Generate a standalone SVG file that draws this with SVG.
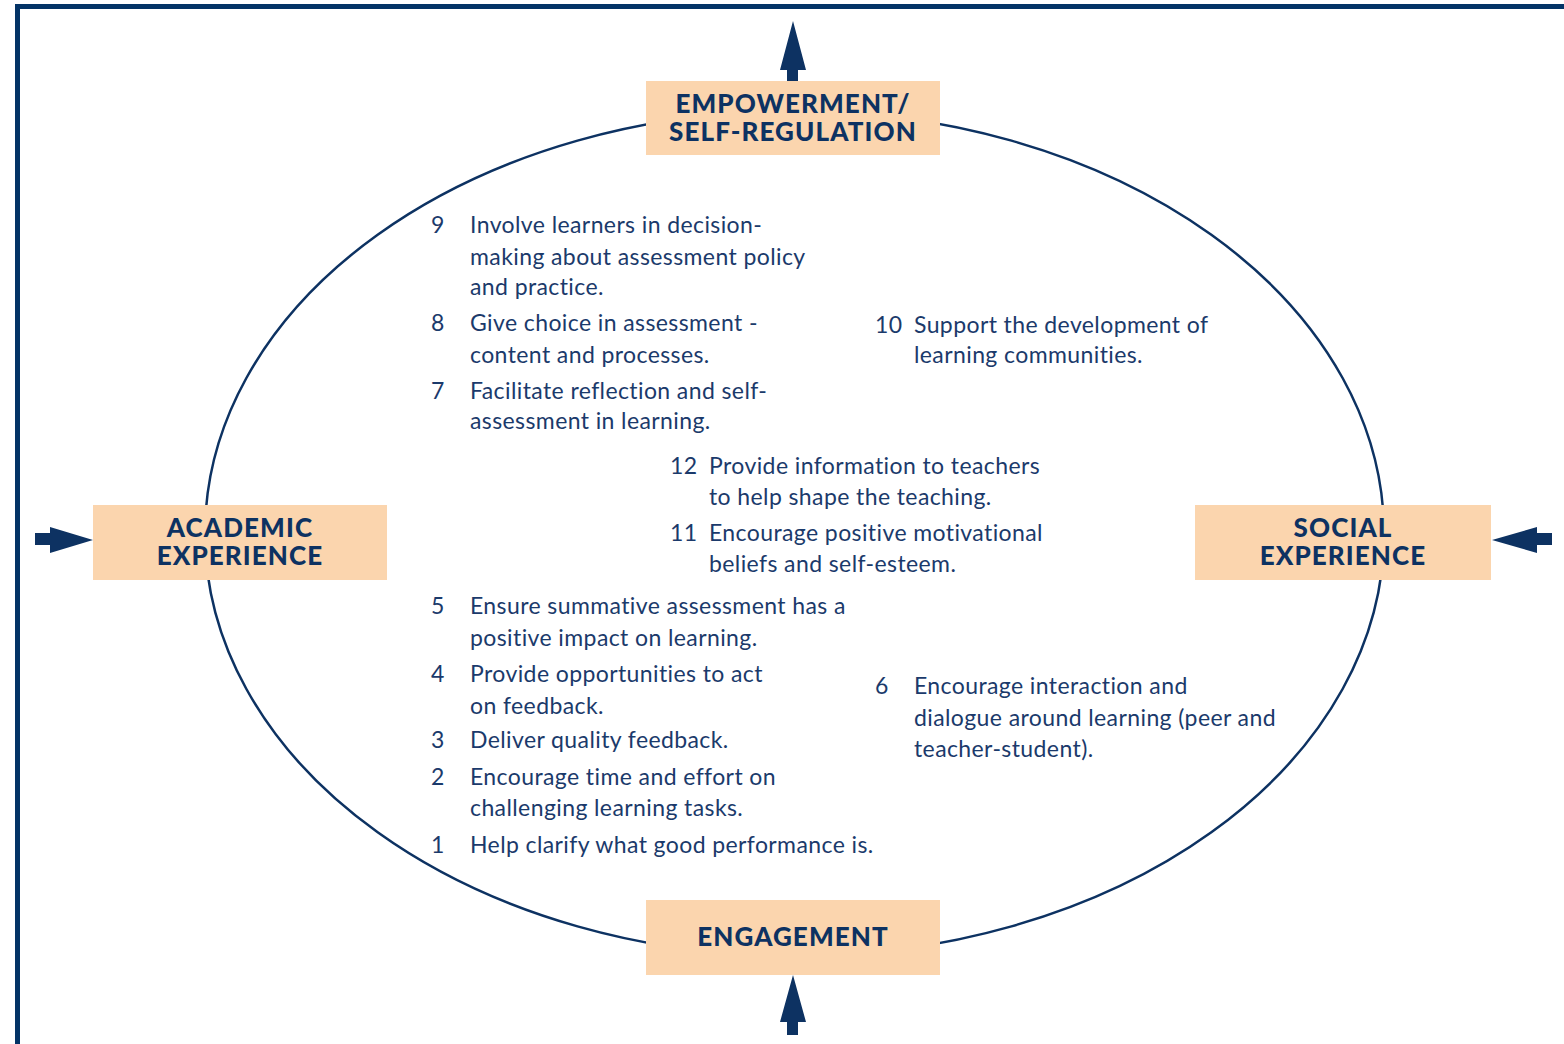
<svg xmlns="http://www.w3.org/2000/svg" width="1564" height="1044" viewBox="0 0 1564 1044">
<style>
.box{fill:#fbd5ae}
.hd{font-family:Lato,"Open Sans",sans-serif;font-weight:900;font-size:26px;fill:#0d3262;text-anchor:middle;letter-spacing:1.1px}
.tx{font-family:Lato,"Noto Sans",sans-serif;font-size:23px;fill:#1b3a6b;letter-spacing:0.4px}
.arr{fill:#0d3262}
</style>
<rect width="1564" height="1044" fill="#ffffff"/>
<path d="M17.5 1044 V6.5 H1564" fill="none" stroke="#033366" stroke-width="5"/>
<g id="connectors">
<ellipse cx="794.5" cy="533.5" rx="589.5" ry="422.5" fill="none" stroke="#0d3262" stroke-width="2.5"/>
<polygon class="arr" points="787,81 798,81 798,70 806,70 793,21 780,70 787,70"/>
<polygon class="arr" points="787,1035 798,1035 798,1022 806,1022 793,975 780,1022 787,1022"/>
<polygon class="arr" points="35,533 50,533 50,527 93,540 50,553 50,545 35,545"/>
<polygon class="arr" points="1552,533 1537,533 1537,527 1492,540 1537,553 1537,545 1552,545"/>
</g>
<g id="empowerment">
<rect class="box" x="646" y="81" width="294" height="74"/>
<text class="hd" x="793" y="113">EMPOWERMENT/</text>
<text class="hd" x="793" y="141">SELF-REGULATION</text>
</g>
<g id="academic">
<rect class="box" x="93" y="505" width="294" height="75"/>
<text class="hd" x="240" y="537">ACADEMIC</text>
<text class="hd" x="240" y="565">EXPERIENCE</text>
</g>
<g id="social">
<rect class="box" x="1195" y="505" width="296" height="75"/>
<text class="hd" x="1343" y="537">SOCIAL</text>
<text class="hd" x="1343" y="565">EXPERIENCE</text>
</g>
<g id="engagement">
<rect class="box" x="646" y="900" width="294" height="75"/>
<text class="hd" x="793" y="946">ENGAGEMENT</text>
</g>
<g id="items">
<text class="tx" x="431" y="233">9</text>
<text class="tx" x="470" y="233">Involve learners in decision-</text>
<text class="tx" x="470" y="265">making about assessment policy</text>
<text class="tx" x="470" y="295">and practice.</text>
<text class="tx" x="431" y="331">8</text>
<text class="tx" x="470" y="331">Give choice in assessment -</text>
<text class="tx" x="470" y="363">content and processes.</text>
<text class="tx" x="431" y="399">7</text>
<text class="tx" x="470" y="399">Facilitate reflection and self-</text>
<text class="tx" x="470" y="429">assessment in learning.</text>
<text class="tx" x="875" y="333">10</text>
<text class="tx" x="914" y="333">Support the development of</text>
<text class="tx" x="914" y="363">learning communities.</text>
<text class="tx" x="670" y="474">12</text>
<text class="tx" x="709" y="474">Provide information to teachers</text>
<text class="tx" x="709" y="505">to help shape the teaching.</text>
<text class="tx" x="670" y="541">11</text>
<text class="tx" x="709" y="541">Encourage positive motivational</text>
<text class="tx" x="709" y="572">beliefs and self-esteem.</text>
<text class="tx" x="431" y="614">5</text>
<text class="tx" x="470" y="614">Ensure summative assessment has a</text>
<text class="tx" x="470" y="646">positive impact on learning.</text>
<text class="tx" x="431" y="682">4</text>
<text class="tx" x="470" y="682">Provide opportunities to act</text>
<text class="tx" x="470" y="714">on feedback.</text>
<text class="tx" x="431" y="748">3</text>
<text class="tx" x="470" y="748">Deliver quality feedback.</text>
<text class="tx" x="431" y="785">2</text>
<text class="tx" x="470" y="785">Encourage time and effort on</text>
<text class="tx" x="470" y="816">challenging learning tasks.</text>
<text class="tx" x="431" y="853">1</text>
<text class="tx" x="470" y="853">Help clarify what good performance is.</text>
<text class="tx" x="875" y="694">6</text>
<text class="tx" x="914" y="694">Encourage interaction and</text>
<text class="tx" x="914" y="726">dialogue around learning (peer and</text>
<text class="tx" x="914" y="757">teacher-student).</text>
</g>
</svg>
